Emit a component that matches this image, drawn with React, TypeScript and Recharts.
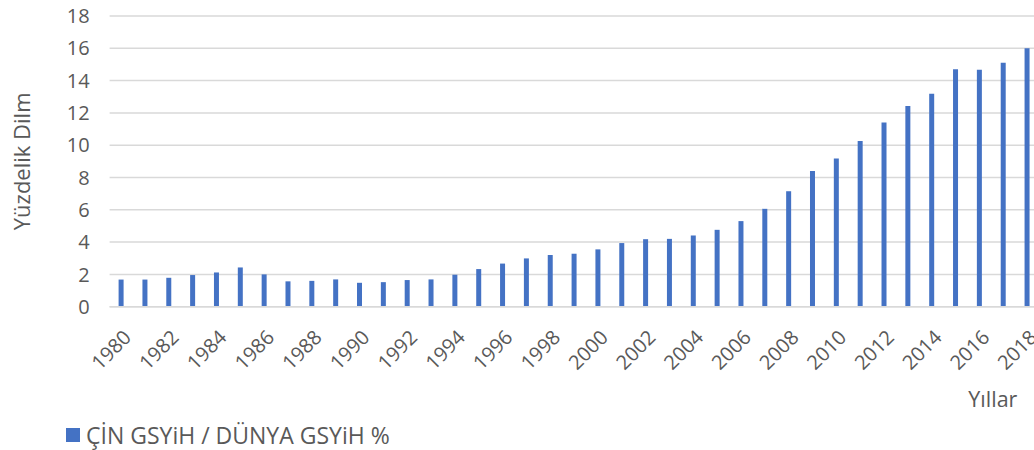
import React from "react";
import { BarChart, Bar, XAxis, YAxis, CartesianGrid, Legend, Label } from "recharts";

const years: string[] = [
  "1980", "1981", "1982", "1983", "1984", "1985", "1986", "1987", "1988", "1989",
  "1990", "1991", "1992", "1993", "1994", "1995", "1996", "1997", "1998", "1999",
  "2000", "2001", "2002", "2003", "2004", "2005", "2006", "2007", "2008", "2009",
  "2010", "2011", "2012", "2013", "2014", "2015", "2016", "2017", "2018",
];

const chinaShare: number[] = [
  1.68, 1.68, 1.79, 1.96, 2.12, 2.43, 2.0, 1.57, 1.6, 1.69,
  1.48, 1.52, 1.65, 1.69, 1.98, 2.33, 2.67, 2.99, 3.2, 3.28,
  3.55, 3.94, 4.18, 4.2, 4.41, 4.76, 5.3, 6.06, 7.15, 8.41,
  9.17, 10.26, 11.4, 12.42, 13.19, 14.71, 14.67, 15.1, 16.0,
];

const yTicks: number[] = [0, 2, 4, 6, 8, 10, 12, 14, 16, 18];

const seriesName = "ÇİN GSYiH / DÜNYA GSYiH %";
const yTitle = "Yüzdelik Dilm";
const xTitle = "Yıllar";

const data = years.map((y, i) => ({ year: y, value: chinaShare[i] }));

const FONT = "'Open Sans', 'Noto Sans', sans-serif";
const TEXT = "#595959";
const BLUE = "#4472C4";

const XTick = (props: any) => {
  const { x, y, payload } = props;
  const ax = x + 6;
  const ay = y + 19;
  return (
    <text
      x={ax}
      y={ay}
      dy="0.35em"
      textAnchor="end"
      transform={`rotate(-45, ${ax}, ${ay})`}
      fill={TEXT}
      fontSize={20}
      fontFamily={FONT}
    >
      {payload.value}
    </text>
  );
};

const LegendContent = () => (
  <div
    style={{
      height: 30,
      display: "flex",
      alignItems: "center",
      paddingLeft: 66,
      fontFamily: FONT,
      fontSize: 23,
      color: TEXT,
      whiteSpace: "nowrap",
    }}
  >
    <span style={{ display: "inline-block", width: 14, height: 14, background: BLUE, marginRight: 6 }} />
    <span>{seriesName}</span>
  </div>
);

export default function App() {
  return (
    <div
      style={{
        position: "absolute",
        left: 0,
        top: 0,
        width: 1034,
        height: 450,
        overflow: "hidden",
        background: "#fff",
      }}
    >
      <BarChart
        width={1045}
        height={450}
        data={data}
        margin={{ top: 16, right: 5.6, left: 0, bottom: 0 }}
        barCategoryGap={0}
      >
        <CartesianGrid vertical={false} stroke="#d9d9d9" strokeWidth={1.5} />
        <XAxis
          dataKey="year"
          interval={1}
          height={113.3}
          tickLine={false}
          axisLine={{ stroke: "#d9d9d9", strokeWidth: 1.5 }}
          tick={<XTick />}
        >
          <Label
            content={(p: any) => {
              const vb = p.viewBox;
              return (
                <text
                  x={vb.x + vb.width - 22}
                  y={vb.y + 93}
                  dy="0.35em"
                  textAnchor="end"
                  fill={TEXT}
                  fontSize={21.5}
                  fontFamily={FONT}
                >
                  {xTitle}
                </text>
              );
            }}
          />
        </XAxis>
        <YAxis
          width={109.6}
          domain={[0, 18]}
          ticks={yTicks}
          interval={0}
          tickLine={false}
          axisLine={false}
          tickSize={0}
          tickMargin={20}
          tick={{ fill: TEXT, fontSize: 20, fontFamily: FONT }}
        >
          <Label
            content={(p: any) => {
              const vb = p.viewBox;
              const cx = 22.5;
              const cy = vb.y + vb.height / 2;
              return (
                <text
                  x={cx}
                  y={cy}
                  dy="0.35em"
                  textAnchor="middle"
                  transform={`rotate(-90, ${cx}, ${cy})`}
                  fill={TEXT}
                  fontSize={22}
                  fontFamily={FONT}
                >
                  {yTitle}
                </text>
              );
            }}
          />
        </YAxis>
        <Legend verticalAlign="bottom" align="left" content={<LegendContent />} />
        <Bar dataKey="value" name={seriesName} fill={BLUE} barSize={5} isAnimationActive={false} />
      </BarChart>
    </div>
  );
}
